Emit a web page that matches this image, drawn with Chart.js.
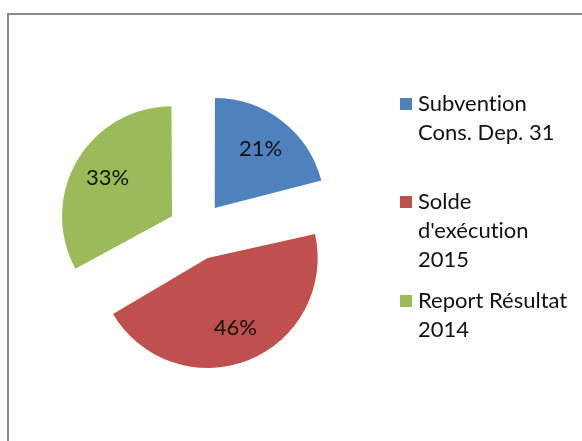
<!DOCTYPE html>
<html>
<head>
<meta charset="utf-8">
<script src="https://cdn.jsdelivr.net/npm/chart.js@4/dist/chart.umd.min.js"></script>
<style>
  html, body { margin: 0; padding: 0; background: #fff; overflow: hidden; }
  #wrap { position: relative; width: 582px; height: 441px; }
  #frame { position: absolute; left: 7px; top: 13px; width: 700px; height: 600px;
           border: 2px solid #8a8a8a; box-sizing: border-box; }
  canvas { position: absolute; left: 0; top: 0; }
  .leg { position: absolute; left: 400px; font-family: Lato, "Open Sans", sans-serif;
         font-size: 22px; line-height: 29px; color: #111;
         font-variant-ligatures: none; font-feature-settings: "liga" 0; }
  .leg .sw { position: absolute; left: 0; width: 12px; height: 12px; top: 10px; }
  .leg .tx { position: absolute; left: 18px; top: 0; white-space: nowrap; }
</style>
</head>
<body>
<div id="wrap">
  <div id="frame"></div>
  <canvas id="c" width="582" height="441"></canvas>
  <div id="legend"></div>
</div>
<script>
const categories = [["Subvention", "Cons. Dep. 31"], ["Solde", "d'exécution", "2015"], ["Report Résultat", "2014"]];
const shares = [21, 46, 33];
const colors = ["#4F81BD", "#C0504D", "#9BBB59"];
const legendTops = [88, 186, 285];

const EXPLODE = 29;      // pixel displacement of each slice
const PIE_RADIUS = 110;

// Chart.js v4 translates an arc by offset/4 and enlarges its radius by
// (offset/4)*(1-sin(circumference)); keep every slice at the same radius.
const keepRadius = {
  id: 'keepRadius',
  beforeDatasetsDraw(chart) {
    const meta = chart.getDatasetMeta(0);
    const R = meta.controller.outerRadius;
    meta.data.forEach(arc => {
      const circ = arc.circumference;
      const off = (arc.options.offset || 0) / 4;
      const fix = 1 - Math.sin(Math.min(Math.PI, circ || 0));
      arc.outerRadius = R - off * fix;
    });
  }
};

const pctLabels = {
  id: 'pctLabels',
  afterDatasetsDraw(chart) {
    const ctx = chart.ctx;
    const meta = chart.getDatasetMeta(0);
    const ds = chart.data.datasets[0];
    const total = ds.data.reduce((a, b) => a + b, 0);
    const R = meta.controller.outerRadius;
    ctx.save();
    ctx.font = '22px Lato, "Open Sans", sans-serif';
    ctx.fillStyle = '#111';
    ctx.textAlign = 'center';
    ctx.textBaseline = 'middle';
    meta.data.forEach((arc, i) => {
      const p = arc.getProps(['x', 'y', 'startAngle', 'endAngle'], true);
      const mid = (p.startAngle + p.endAngle) / 2;
      const off = (arc.options.offset || 0) / 4;
      const d = off + R * 0.68;
      const pct = Math.round(ds.data[i] / total * 100) + '%';
      ctx.fillText(pct, p.x + Math.cos(mid) * d, p.y + Math.sin(mid) * d);
    });
    ctx.restore();
  }
};

new Chart(document.getElementById('c'), {
  type: 'pie',
  data: {
    labels: categories,
    datasets: [{
      data: shares,
      backgroundColor: colors,
      borderWidth: 0,
      offset: EXPLODE * 4,
      radius: PIE_RADIUS,
      clip: false
    }]
  },
  options: {
    responsive: false,
    animation: false,
    layout: { padding: { left: 0, right: 188, top: 21, bottom: 0 } },
    plugins: { legend: { display: false }, tooltip: { enabled: false } },
    events: []
  },
  plugins: [keepRadius, pctLabels]
});

const legendEl = document.getElementById('legend');
categories.forEach((lines, i) => {
  const item = document.createElement('div');
  item.className = 'leg';
  item.style.top = legendTops[i] + 'px';
  const sw = document.createElement('div');
  sw.className = 'sw';
  sw.style.background = colors[i];
  const tx = document.createElement('div');
  tx.className = 'tx';
  lines.forEach((s, k) => {
    if (k) tx.appendChild(document.createElement('br'));
    tx.appendChild(document.createTextNode(s));
  });
  item.appendChild(sw);
  item.appendChild(tx);
  legendEl.appendChild(item);
});
</script>
</body>
</html>
